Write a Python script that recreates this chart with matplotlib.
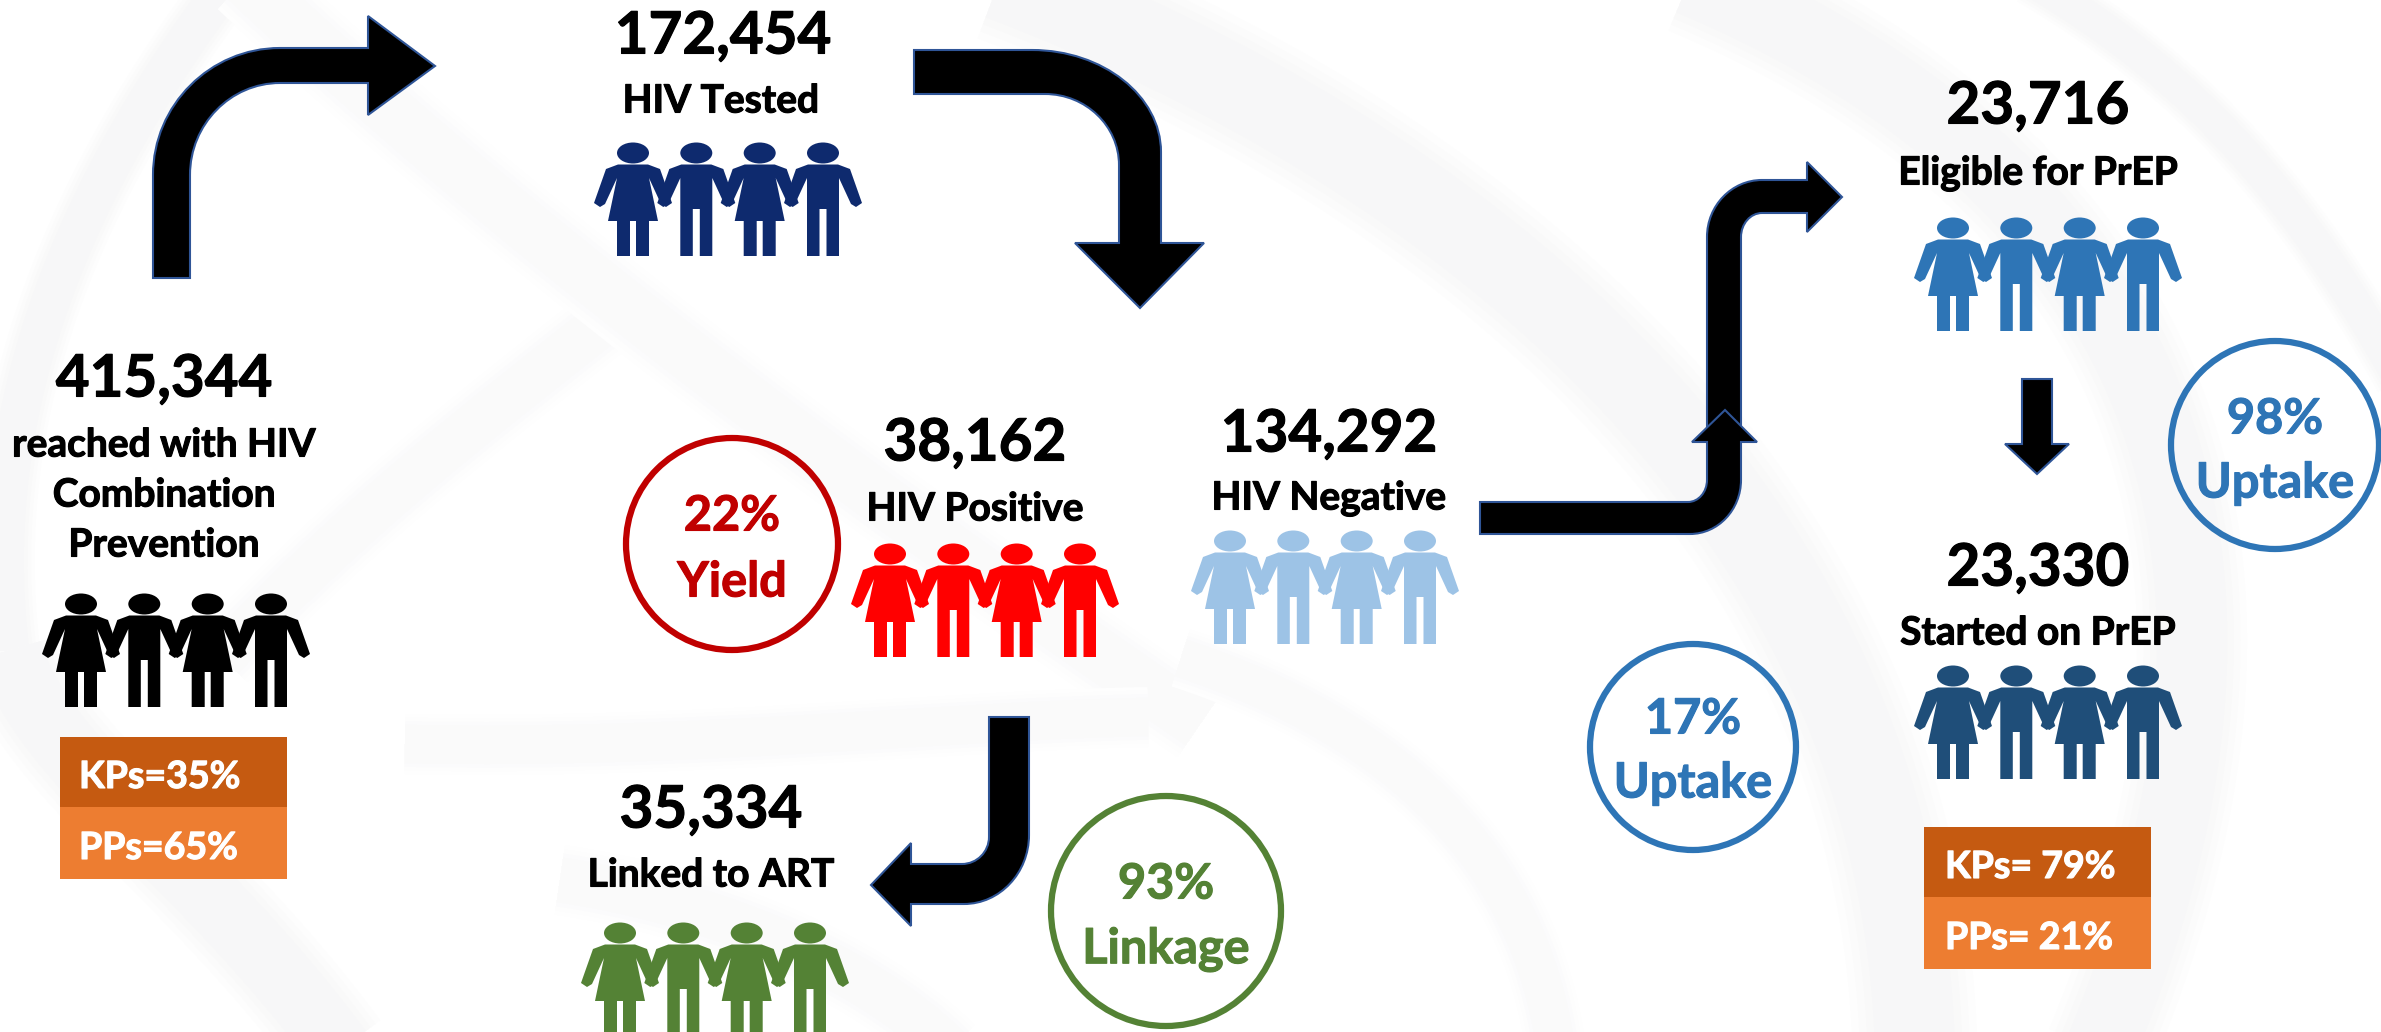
import matplotlib
matplotlib.use("Agg")
import matplotlib.pyplot as plt
import matplotlib.patheffects as pe
from matplotlib.patches import PathPatch, Circle, Rectangle, Polygon, Ellipse
from matplotlib.path import Path

plt.rcParams['font.family'] = ['Lato', 'DejaVu Sans']

# cascade numbers and labels
counts = ["415,344", "172,454", "38,162", "134,292", "35,334", "23,716", "23,330"]
labels = ["reached with HIV\nCombination\nPrevention", "HIV Tested", "HIV Positive", "HIV Negative",
          "Linked to ART", "Eligible for PrEP", "Started on PrEP"]
rates = ["22%\nYield", "93%\nLinkage", "17%\nUptake", "98%\nUptake"]
split_reached = ["KPs=35%", "PPs=65%"]
split_started = ["KPs= 79%", "PPs= 21%"]

# where they go, in reference pixels
count_xy = [(164, 380), (723, 37), (975, 444), (1329, 435), (711, 811), (2038, 107), (2038, 569)]
label_xy = [[(164, 445), (164, 495), (164, 545)], [(721, 101)], [(975, 509)], [(1329, 498)],
            [(711, 875)], [(2038, 173)], [(2038, 633)]]
people_xy = [(176, 604), (728, 153), (985, 554), (1325, 541), (715, 933), (2048, 228), (2048, 676)]
people_col = ["#000000", "#0e2a6e", "#ff0000", "#9dc3e6", "#548235", "#2e75b6", "#1f4e79"]
ring_xy = [(732, 544, 106), (1166, 911, 115), (1693, 747, 103), (2275, 445, 104)]
ring_col = ["#c00000", "#548235", "#2e75b6", "#2e75b6"]
ring_text_y = [(516, 582), (884, 949), (719, 783), (419, 483)]

fig = plt.figure(figsize=(23.81, 10.32), dpi=100)
ax = fig.add_axes([0, 0, 1, 1])
ax.set_xlim(0, 2381)
ax.set_ylim(1032, 0)
ax.axis("off")


def shape(start, *steps):
    # a step is an (x, y) line, or ((cx, cy), (x, y)) for a rounded corner
    verts, codes = [start], [Path.MOVETO]
    for s in steps:
        if isinstance(s[0], tuple):
            c, e = s
            p = verts[-1]
            verts += [(p[0] + (c[0] - p[0]) * .55, p[1] + (c[1] - p[1]) * .55),
                      (e[0] + (c[0] - e[0]) * .55, e[1] + (c[1] - e[1]) * .55), e]
            codes += [Path.CURVE4] * 3
        else:
            verts.append(s)
            codes.append(Path.LINETO)
    verts.append(start)
    codes.append(Path.CLOSEPOLY)
    return Path(verts, codes)


def arrow(start, *steps):
    ax.add_patch(PathPatch(shape(start, *steps), fc="black", ec="#2f5597", lw=1.5, joinstyle="miter", zorder=3))


def swoosh(p0, p1, p2, p3, width, pale=False):
    # soft edged watermark band, strokes from wide and white to narrow and grey
    curve = Path([p0, p1, p2, p3], [Path.MOVETO, Path.CURVE4, Path.CURVE4, Path.CURVE4])
    cols = ["#fefefe", "#fdfdfd", "#fbfbfc", "#fafafa"] if pale else ["#fdfdfd", "#fbfbfb", "#f9f9f9", "#f7f7f8"]
    for k, col in zip([1.0, .88, .76, .64], cols):
        ax.add_patch(PathPatch(curve, fc="none", ec=col, lw=width * k / 1.389, capstyle="butt", zorder=0))


# faint watermark behind everything
swoosh((230, -20), (80, 180), (-20, 400), (10, 650), 60)
swoosh((10, 650), (40, 760), (200, 860), (340, 1050), 100)
swoosh((222, 658), (350, 520), (480, 420), (612, 316), 70, True)
swoosh((245, -20), (500, 220), (800, 450), (1200, 724), 80, True)
swoosh((405, 744), (700, 750), (950, 720), (1148, 717), 60, True)
swoosh((560, 880), (700, 900), (860, 960), (950, 1050), 70, True)
swoosh((1181, 658), (1400, 730), (1530, 860), (1556, 1050), 60, True)
swoosh((1000, -20), (1450, 150), (1900, 500), (1915, 1050), 125)
swoosh((1690, -20), (2050, 130), (2350, 450), (2100, 1050), 110)
swoosh((2030, -20), (2200, 80), (2300, 200), (2400, 380), 50)


def person(cx, cy, col, female):
    ax.add_patch(Ellipse((cx, cy), 32, 21, fc=col, ec="none", zorder=2))
    if female:
        body = [(-15, 11.5), (-27, 16), (-39, 50), (-33, 54), (-28, 51), (-16, 25), (-25, 68), (-16, 68), (-16, 103),
                (-3, 103), (-3, 68), (3, 68), (3, 103), (16, 103), (16, 68), (25, 68), (16, 25), (28, 51), (33, 54),
                (39, 50), (27, 16), (15, 11.5)]
    else:
        body = [(-15, 11.5), (-27, 16), (-39, 50), (-33, 54), (-28, 51), (-16, 25), (-16, 103), (-3.5, 103),
                (-3.5, 56), (3.5, 56), (3.5, 103), (16, 103), (16, 25), (28, 51), (33, 54), (39, 50), (27, 16),
                (15, 11.5)]
    ax.add_patch(Polygon([(cx + x, cy + y) for x, y in body], closed=True, fc=col, ec="none", zorder=2))


for (px, py), col in zip(people_xy, people_col):
    for i, off in enumerate([-95, -31.7, 31.7, 95]):
        person(px + off, py, col, i % 2 == 0)

# arrows
arrow((153, 278), (153, 175), ((153, 48), (280, 48)), (368, 48), (368, 16), (435, 66), (368, 115), (368, 83),
      (280, 83), ((190, 83), (190, 175)), (190, 278))
arrow((914, 50), (1032, 50), ((1161, 50), (1161, 152)), (1161, 243), (1204, 243), (1140, 308), (1075, 243),
      (1119, 243), (1119, 165), ((1119, 94), (1045, 94)), (914, 94))
arrow((1707, 430), (1707, 237), ((1707, 180), (1762, 180)), (1807, 180), (1807, 162), (1842, 197), (1807, 232),
      (1807, 213), (1762, 213), ((1741, 213), (1741, 237)), (1741, 430))
arrow((1480, 502), (1688, 502), ((1707, 502), (1707, 480)), (1707, 442), (1692, 442), (1725, 410), (1757, 442),
      (1741, 442), (1741, 480), ((1741, 534), (1690, 534)), (1480, 534))
arrow((989, 717), (1029, 717), (1029, 835), ((1029, 904), (964, 904)), (911, 904), (911, 926), (871, 885),
      (911, 843), (911, 864), (962, 864), ((989, 864), (989, 837)))
arrow((2022, 379), (2052, 379), (2052, 444), (2069, 444), (2037, 474), (2005, 444), (2022, 444))


def bold_text(x, y, txt, size, col, ha="center"):
    # Lato bold runs a little light next to the original, so thicken it slightly
    t = ax.text(x, y, txt, fontsize=size, fontweight="bold", ha=ha, va="center", color=col, zorder=4)
    t.set_path_effects([pe.withStroke(linewidth=0.8, foreground=col)])


# numbers and labels
for txt, (x, y) in zip(counts, count_xy):
    bold_text(x, y, txt, 42, "black")
for txt, where in zip(labels, label_xy):
    for line, (x, y) in zip(txt.split("\n"), where):
        bold_text(x, y, line, 28, "black")

# rate circles
for txt, (x, y, r), col, ys in zip(rates, ring_xy, ring_col, ring_text_y):
    ax.add_patch(Circle((x, y), r, fc="none", ec=col, lw=4.5, zorder=3))
    for line, ty in zip(txt.split("\n"), ys):
        bold_text(x, ty, line, 35, col)

# KP / PP boxes
for (x0, x1, y0, y1, y2, tx), split in [((60, 287, 737, 807, 879, 79), split_reached),
                                        ((1924, 2151, 827, 897, 969, 1945), split_started)]:
    ax.add_patch(Rectangle((x0, y0), x1 - x0, y1 - y0, fc="#c55a11", ec="none", zorder=3))
    ax.add_patch(Rectangle((x0, y1), x1 - x0, y2 - y1, fc="#ed7d31", ec="none", zorder=3))
    bold_text(tx, (y0 + y1) / 2 + 5, split[0], 27, "white", ha="left")
    bold_text(tx, (y1 + y2) / 2 + 5, split[1], 27, "white", ha="left")

fig.savefig("out.png", dpi=100)
